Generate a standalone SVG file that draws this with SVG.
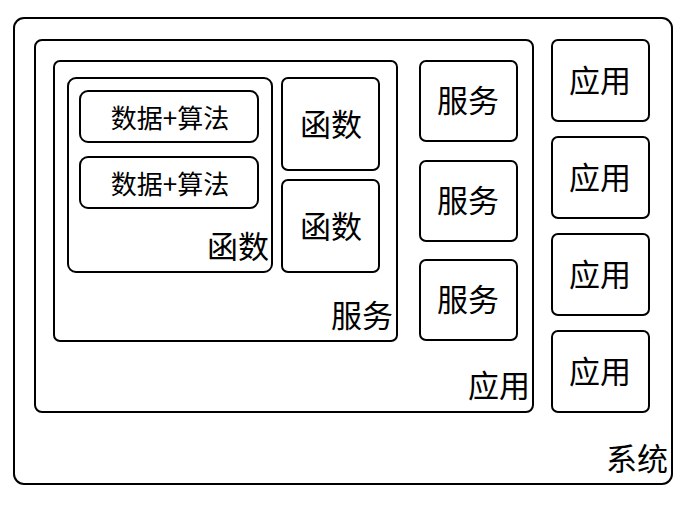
<svg xmlns="http://www.w3.org/2000/svg" width="693" height="506" viewBox="0 0 693 506">
<style>
rect{fill:#fff;stroke:#000;stroke-width:2}
text{font-family:"Noto Sans CJK SC","Noto Sans",sans-serif;fill:#000}
.c{text-anchor:middle;dominant-baseline:central;font-size:31px}
.s{text-anchor:middle;dominant-baseline:central;font-size:26px}
.r{text-anchor:end;font-size:31px}
</style>
<rect width="693" height="506" style="stroke:none"/>
<g id="system"><rect x="14" y="18" width="658" height="466" rx="10"/><text class="r" x="668" y="470">系统</text></g>
<g id="app-main"><rect x="35" y="40" width="498" height="372" rx="7"/><text class="r" x="530" y="397">应用</text></g>
<g id="service-main"><rect x="54" y="61" width="343" height="280" rx="6"/><text class="r" x="393" y="327">服务</text></g>
<g id="function-main"><rect x="68" y="78" width="204" height="194" rx="8"/><text class="r" x="269" y="258">函数</text></g>
<g id="data1"><rect x="80" y="91" width="178" height="51" rx="8"/><text class="s" x="170" y="116">数据+算法</text></g>
<g id="data2"><rect x="80" y="157" width="178" height="51" rx="8"/><text class="s" x="170" y="182">数据+算法</text></g>
<g id="func1"><rect x="282" y="78" width="97" height="92" rx="6"/><text class="c" x="331" y="122">函数</text></g>
<g id="func2"><rect x="282" y="180" width="97" height="92" rx="6"/><text class="c" x="331" y="224">函数</text></g>
<g id="svc1"><rect x="420" y="61" width="97" height="80" rx="6"/><text class="c" x="468" y="98">服务</text></g>
<g id="svc2"><rect x="420" y="161" width="97" height="80" rx="6"/><text class="c" x="468" y="198">服务</text></g>
<g id="svc3"><rect x="420" y="260" width="97" height="80" rx="6"/><text class="c" x="468" y="297">服务</text></g>
<g id="app1"><rect x="552" y="40" width="97" height="81" rx="6"/><text class="c" x="600" y="78">应用</text></g>
<g id="app2"><rect x="552" y="137" width="97" height="81" rx="6"/><text class="c" x="600" y="175">应用</text></g>
<g id="app3"><rect x="552" y="234" width="97" height="81" rx="6"/><text class="c" x="600" y="272">应用</text></g>
<g id="app4"><rect x="552" y="331" width="97" height="81" rx="6"/><text class="c" x="600" y="369">应用</text></g>
<g id="connectors"/>
</svg>
